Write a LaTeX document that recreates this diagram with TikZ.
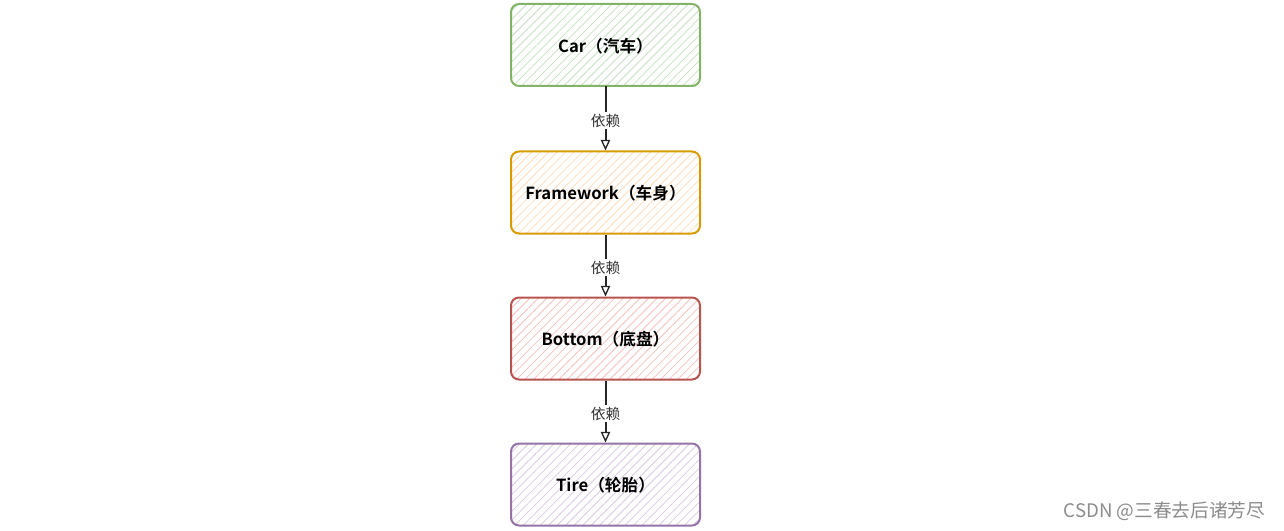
\documentclass[tikz,border=0pt]{standalone}
\usepackage{fontspec}
\setmainfont{Noto Sans CJK SC}
\newfontfamily\cjkb{Noto Sans CJK SC Bold}
\newfontfamily\cjk{Noto Sans CJK SC}
\usetikzlibrary{patterns.meta,arrows.meta}
\definecolor{gS}{HTML}{82B366}\definecolor{gF}{HTML}{C5DFC2}
\definecolor{oS}{HTML}{D79B00}\definecolor{oF}{HTML}{FFDCB8}
\definecolor{rS}{HTML}{B85450}\definecolor{rF}{HTML}{F4C0BE}
\definecolor{pS}{HTML}{9673A6}\definecolor{pF}{HTML}{D8CAE0}
\tikzset{
  box/.style 2 args={draw=#1, line width=1.5pt, rounded corners=6pt,
    minimum width=141.75pt, minimum height=61.5pt, inner sep=0pt, text depth=0pt,
    pattern={Lines[angle=45,distance=4.5pt,line width=0.6pt]}, pattern color=#2,
    font=\cjkb\fontsize{12.5}{14}\selectfont},
  dep/.style={draw=black!85, line width=1.5pt, -{Triangle[open,length=8pt,width=7pt,line width=1pt]}},
  deplabel/.style={fill=white, inner sep=1pt, yshift=-1.5pt, font=\cjk\fontsize{11}{12}\selectfont, text=black!80}
}
\begin{document}
\begin{tikzpicture}[x=0.75pt,y=-0.75pt]
\useasboundingbox (0,0) rectangle (1284,531);
\node[box={gS}{gF}] (car) at (605.5,45) {Car（汽车）};
\node[box={oS}{oF}] (frame) at (605.5,192.5) {Framework（车身）};
\node[box={rS}{rF}] (bottom) at (605.5,338.5) {Bottom（底盘）};
\node[box={pS}{pF}] (tire) at (605.5,484.5) {Tire（轮胎）};
\draw[dep] (car) -- node[deplabel] (l1) {依赖} (frame);
\draw[dep] (frame) -- node[deplabel] (l2) {依赖} (bottom);
\draw[dep] (bottom) -- node[deplabel] (l3) {依赖} (tire);
\node[anchor=east, text=black!45, font=\cjk\fontsize{14}{16}\selectfont] (wm) at (1270,511) {CSDN @三春去后诸芳尽};
\end{tikzpicture}
\end{document}
